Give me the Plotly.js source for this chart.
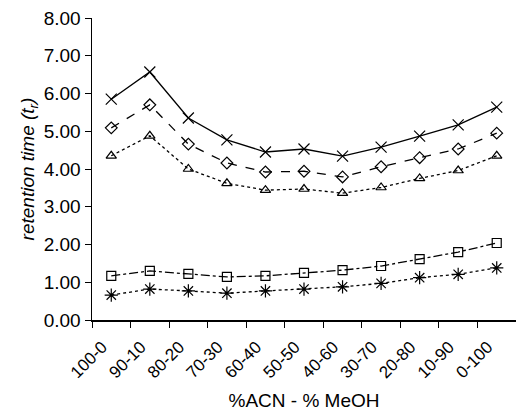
<!DOCTYPE html>
<html><head><meta charset="utf-8">
<script src="https://cdn.plot.ly/plotly-3.0.1.min.js"></script>
<style>body{margin:0;background:#fff}#c{width:516px;height:411px}</style>
</head><body><div id="c"></div>
<script>
var categories = ["100-0","90-10","80-20","70-30","60-40","50-50","40-60","30-70","20-80","10-90","0-100"];
var seriesX = [5.85,6.57,5.35,4.77,4.45,4.53,4.34,4.58,4.87,5.17,5.64];
var seriesDiamond = [5.09,5.70,4.66,4.16,3.92,3.94,3.79,4.06,4.30,4.53,4.95];
var seriesTriangle = [4.35,4.88,4.00,3.62,3.44,3.47,3.36,3.51,3.75,3.96,4.35];
var seriesSquare = [1.17,1.30,1.22,1.14,1.17,1.25,1.32,1.43,1.61,1.80,2.04];
var seriesStar = [0.66,0.82,0.77,0.71,0.77,0.82,0.88,0.97,1.12,1.21,1.38];
var yTicks = [0,1,2,3,4,5,6,7,8];

function tr(y, sym, dash, size){
  return {x: categories, y: y, type:'scatter', mode:'lines+markers',
    line:{color:'#000', width:1.3, dash:dash},
    marker:{symbol:sym, size:size, color:'#000', line:{color:'#000', width:1.2}},
    showlegend:false};
}
var data = [
  tr(seriesX,'x-thin-open','solid',11),
  tr(seriesDiamond,'diamond-open','dash',9),
  tr(seriesTriangle,'triangle-up-open','dot',9),
  tr(seriesSquare,'square-open','dashdot',9),
  tr(seriesStar,'asterisk-open','dot',11)
];
var fam = 'Liberation Sans, Arial, sans-serif';
var layout = {
  width:516, height:411,
  margin:{l:92, r:0, t:18, b:91},
  paper_bgcolor:'#fff', plot_bgcolor:'#fff',
  font: {family:fam, color:'#000'},
  xaxis:{type:'category', range:[-0.5,10.5], tickson:'boundaries', ticks:'outside', ticklen:6, tickcolor:'#000',
    showline:true, linecolor:'#000', linewidth:1.5, showgrid:false, zeroline:false,
    tickangle:-45, tickfont:{family:fam, size:17, color:'#000'},
    ticklabelstandoff:9, ticklabelshift:-9,
    title:{text:'%ACN - % MeOH', font:{family:fam, size:19, color:'#000'}, standoff:12}},
  yaxis:{range:[0,8], tickvals:yTicks, ticktext:yTicks.map(function(v){return v.toFixed(2);}),
    ticks:'outside', ticklen:6, tickcolor:'#000', showline:true, linecolor:'#000', linewidth:1.5,
    showgrid:false, zeroline:false, tickfont:{family:fam, size:19, color:'#000'},
    title:{text:'<i>retention time (t<sub>r</sub>)</i>', font:{family:fam, size:19, color:'#000'}, standoff:4}}
};
Plotly.newPlot('c', data, layout, {staticPlot:true});
</script></body></html>
